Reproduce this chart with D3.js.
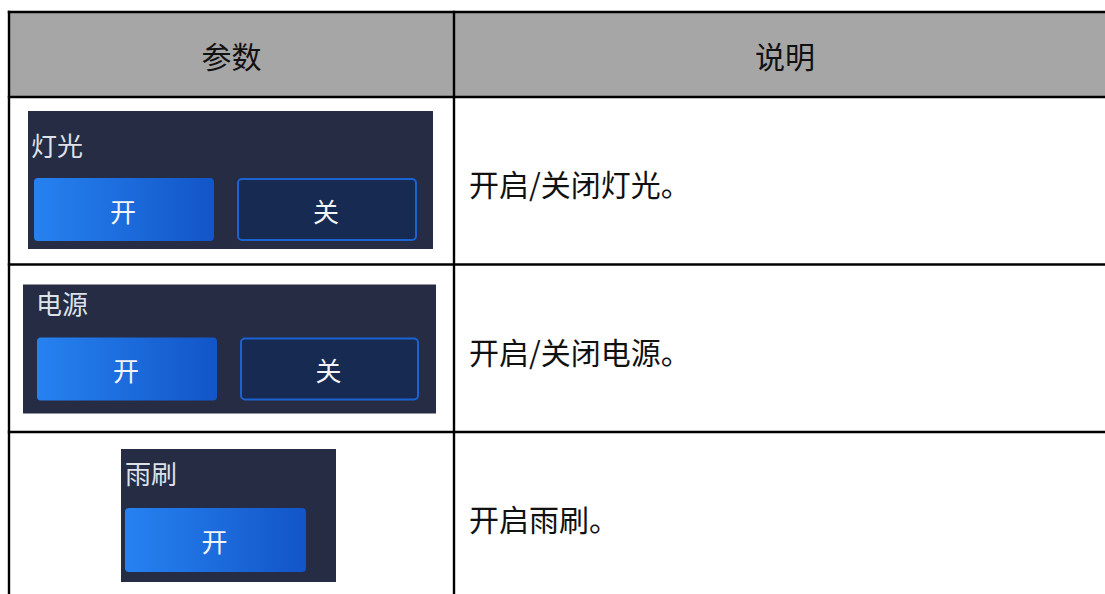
<!DOCTYPE html>
<html>
<head>
<meta charset="utf-8">
<script src="https://cdn.jsdelivr.net/npm/d3@7"></script>
<style>
  html, body { margin: 0; padding: 0; background: #ffffff; overflow: hidden; }
  svg { display: block; }
  text { font-family: "Noto Sans CJK SC", "Noto Sans", sans-serif; }
</style>
</head>
<body>
<svg id="chart" width="1105" height="594"></svg>
<script>
// ---- data ----
const headers = ["参数", "说明"];
const rowIds = ["light", "power", "wiper"];
const paramLabels = ["灯光", "电源", "雨刷"];
const buttonLabels = [["开", "关"], ["开", "关"], ["开"]];
const descriptions = ["开启/关闭灯光。", "开启/关闭电源。", "开启雨刷。"];

// ---- layout (positions / sizes, not data) ----
const W = 1105, H = 594;
const tableLeft = 9, tableRight = 1116, colDivider = 454;
const headerTop = 12, headerBottom = 97, rowHeight = 167.5;
const panelLayout = [
  { x: 28, dy: 14, w: 405, h: 138, label: { x: 31, dy: 47.5 },
    buttons: [{ x: 34, dy: 81, w: 180, h: 63 }, { x: 237, dy: 81, w: 180, h: 63 }] },
  { x: 23, dy: 20, w: 413, h: 129, label: { x: 36, dy: 37.5 },
    buttons: [{ x: 37, dy: 73, w: 180, h: 63 }, { x: 240, dy: 73, w: 179, h: 63 }] },
  { x: 121, dy: 17, w: 215, h: 133, label: { x: 125, dy: 40.5 },
    buttons: [{ x: 125, dy: 76, w: 181, h: 64 }] }
];

const svg = d3.select("#chart");
const defs = svg.append("defs");
const grad = defs.append("linearGradient").attr("id", "onGrad")
  .attr("x1", "0%").attr("x2", "100%").attr("y1", "0%").attr("y2", "0%");
grad.append("stop").attr("offset", "0%").attr("stop-color", "#2682f0");
grad.append("stop").attr("offset", "100%").attr("stop-color", "#1255c8");

const colEdges = d3.scaleOrdinal().domain(headers).range([[tableLeft, colDivider], [colDivider, tableRight]]);
const y = d3.scaleBand().domain(rowIds).range([headerBottom, headerBottom + rowHeight * rowIds.length]);

// header background
svg.append("rect").attr("x", tableLeft).attr("y", headerTop)
  .attr("width", tableRight - tableLeft).attr("height", headerBottom - headerTop)
  .attr("fill", "#a6a6a6");

svg.selectAll("text.hdr").data(headers).join("text")
  .attr("class", "hdr")
  .attr("x", d => (colEdges(d)[0] + colEdges(d)[1]) / 2)
  .attr("y", (headerTop + headerBottom) / 2 + 0.5)
  .attr("text-anchor", "middle")
  .attr("dominant-baseline", "central")
  .attr("font-size", 30)
  .attr("fill", "#111")
  .text(d => d);

const rows = svg.selectAll("g.row").data(rowIds).join("g").attr("class", "row");

rows.each(function(id, i) {
  const g = d3.select(this);
  const top = y(id);
  const L = panelLayout[i];
  g.append("rect").attr("x", L.x).attr("y", top + L.dy).attr("width", L.w).attr("height", L.h)
    .attr("fill", "#262c43");
  g.append("text").attr("x", L.label.x).attr("y", top + L.label.dy)
    .attr("dominant-baseline", "central")
    .attr("font-size", 26)
    .attr("fill", "#dde2ea")
    .text(paramLabels[i]);
  buttonLabels[i].forEach((lab, j) => {
    const b = L.buttons[j];
    const isOn = j === 0;
    g.append("rect")
      .attr("x", isOn ? b.x : b.x + 1).attr("y", isOn ? top + b.dy : top + b.dy + 1)
      .attr("width", isOn ? b.w : b.w - 2).attr("height", isOn ? b.h : b.h - 2)
      .attr("rx", 4)
      .attr("fill", isOn ? "url(#onGrad)" : "#172a51")
      .attr("stroke", isOn ? "none" : "#1b62d2")
      .attr("stroke-width", isOn ? 0 : 2);
    g.append("text").attr("x", b.x + b.w / 2 - 1).attr("y", top + b.dy + b.h / 2 + 0.5)
      .attr("text-anchor", "middle").attr("dominant-baseline", "central")
      .attr("font-size", 26).attr("fill", "#f2f4f8")
      .text(lab);
  });
  g.append("text").attr("x", 469).attr("y", top + rowHeight / 2 + 2.5)
    .attr("dominant-baseline", "central")
    .attr("font-size", 30).attr("fill", "#111")
    .text(descriptions[i]);
});

const lineColor = "#000";
const lw = 2.4;
const hLines = [headerTop, headerBottom].concat(rowIds.slice(0, -1).map(id => y(id) + y.bandwidth()));
svg.selectAll("line.h").data(hLines).join("line").attr("class", "h")
  .attr("x1", tableLeft - lw / 2).attr("x2", tableRight)
  .attr("y1", d => d).attr("y2", d => d)
  .attr("stroke", lineColor).attr("stroke-width", lw);
const vLines = [tableLeft, colDivider, tableRight];
svg.selectAll("line.v").data(vLines).join("line").attr("class", "v")
  .attr("x1", d => d).attr("x2", d => d)
  .attr("y1", headerTop - lw / 2).attr("y2", H + 10)
  .attr("stroke", lineColor).attr("stroke-width", lw);
</script>
</body>
</html>
